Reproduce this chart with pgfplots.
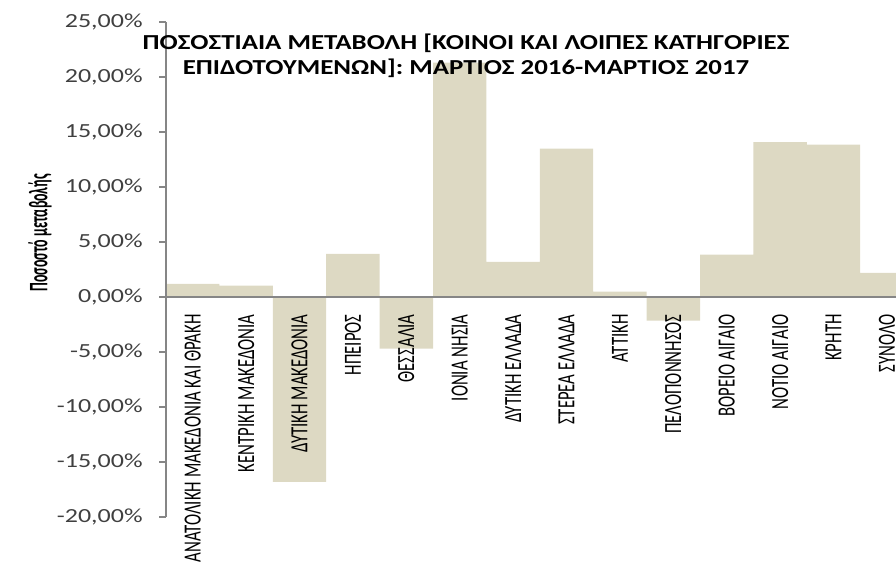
\documentclass[border=0pt]{standalone}
\usepackage{pgfplots}
\pgfplotsset{compat=1.18}
\usepackage{fontspec}
\setmainfont{Carlito}
\newfontfamily\tickfont[FakeStretch=1.3]{Carlito}
\newfontfamily\titlefont[FakeStretch=1.26]{Carlito}
\newfontfamily\catfont[FakeStretch=0.68]{Carlito}
\newfontfamily\labfont[FakeStretch=0.52]{Carlito}
\definecolor{barfill}{HTML}{DDD9C3}
\definecolor{axgray}{HTML}{868686}

\begin{document}
\begin{tikzpicture}
\path[use as bounding box] (0,0) rectangle (672pt,421.5pt);
\begin{axis}[
    at={(124.5pt,33.75pt)}, anchor=south west,
    scale only axis,
    width=547.5pt, height=371.25pt,
    xmin=-0.5, xmax=13.17,
    ymin=-20, ymax=25,
    axis y line=left,
    axis x line=middle,
    axis line style={-, axgray, line width=0.8pt},
    axis on top,
    ytick={-20,-15,...,25},
    yticklabels={{-20,00\%},{-15,00\%},{-10,00\%},{-5,00\%},{0,00\%},{5,00\%},{10,00\%},{15,00\%},{20,00\%},{25,00\%}},
    y tick label style={font=\tickfont\fontsize{15}{17}\selectfont, text=black!75, xshift=-9pt},
    ytick style={axgray, line width=0.8pt},
    tick align=outside,
    major tick length=5pt,
    xtick={0,1,...,13},
    x tick style={draw=none},
    xticklabels={ΑΝΑΤΟΛΙΚΗ ΜΑΚΕΔΟΝΙΑ ΚΑΙ ΘΡΑΚΗ, ΚΕΝΤΡΙΚΗ ΜΑΚΕΔΟΝΙΑ, ΔΥΤΙΚΗ ΜΑΚΕΔΟΝΙΑ, ΗΠΕΙΡΟΣ, ΘΕΣΣΑΛΙΑ, ΙΟΝΙΑ ΝΗΣΙΑ, ΔΥΤΙΚΗ ΕΛΛΑΔΑ, ΣΤΕΡΕΑ ΕΛΛΑΔΑ, ΑΤΤΙΚΗ, ΠΕΛΟΠΟΝΝΗΣΟΣ, ΒΟΡΕΙΟ ΑΙΓΑΙΟ, ΝΟΤΙΟ ΑΙΓΑΙΟ, ΚΡΗΤΗ, ΣΥΝΟΛΟ},
    x tick label style={rotate=90, anchor=east, xshift=-4.5pt, font=\catfont\fontsize{18.5}{20}\selectfont, text=black},
    every axis y label/.style={at={(rel axis cs:-0.1726,0.574)}, rotate=90, anchor=center},
    ylabel={\labfont\fontsize{20}{22}\selectfont\bfseries Ποσοστό μεταβολής},
    title={ΠΟΣΟΣΤΙΑΙΑ ΜΕΤΑΒΟΛΗ [ΚΟΙΝΟΙ ΚΑΙ ΛΟΙΠΕΣ ΚΑΤΗΓΟΡΙΕΣ\\ΕΠΙΔΟΤΟΥΜΕΝΩΝ]: ΜΑΡΤΙΟΣ 2016-ΜΑΡΤΙΟΣ 2017},
    title style={at={(rel axis cs:0.411,0.969)}, anchor=north, align=center, font=\titlefont\fontsize{16}{18.5}\selectfont\bfseries},
]
\addplot[ybar, bar width=1, fill=barfill, draw=none] coordinates {
    (0,1.2) (1,1.03) (2,-16.8) (3,3.93) (4,-4.7) (5,21.3) (6,3.2)
    (7,13.5) (8,0.48) (9,-2.15) (10,3.85) (11,14.07) (12,13.85) (13,2.2)
};
\end{axis}
\end{tikzpicture}
\end{document}
